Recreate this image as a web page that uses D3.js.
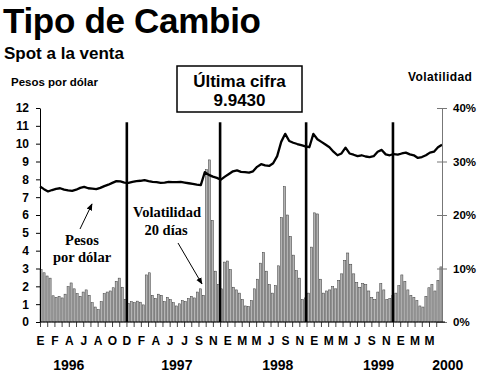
<!DOCTYPE html>
<html>
<head>
<meta charset="utf-8">
<script src="https://cdn.jsdelivr.net/npm/d3@7"></script>
<style>
  body { margin: 0; background: #fff; }
  svg { display: block; font-family: "Liberation Sans", Arial, sans-serif; }
</style>
</head>
<body>
<div id="chart"></div>
<script>
// pesos per dollar, roughly every two weeks, Jan 1996 -> Jan 2000
const pesos = [
  7.60, 7.45, 7.32, 7.40, 7.47, 7.50, 7.42, 7.38, 7.35, 7.42,
  7.52, 7.58, 7.50, 7.48, 7.45, 7.52, 7.62, 7.70, 7.80, 7.90,
  7.88, 7.82, 7.80, 7.86, 7.90, 7.92, 7.96, 7.90, 7.86, 7.84,
  7.80, 7.82, 7.86, 7.84, 7.84, 7.86, 7.82, 7.78, 7.74, 7.70,
  7.68, 8.40, 8.25, 8.15, 8.08, 7.98, 8.15, 8.30, 8.45, 8.50,
  8.42, 8.40, 8.38, 8.45, 8.70, 8.85, 8.78, 8.75, 8.90, 9.30,
  10.10, 10.55, 10.15, 10.05, 9.98, 9.92, 9.85, 9.80, 10.55, 10.25,
  10.10, 9.95, 9.80, 9.55, 9.35, 9.45, 9.78, 9.45, 9.38, 9.30,
  9.35, 9.28, 9.25, 9.30, 9.55, 9.65, 9.40, 9.35, 9.42, 9.38,
  9.45, 9.50, 9.40, 9.35, 9.20, 9.25, 9.35, 9.50, 9.55, 9.80,
  9.943
];

// 20-day volatility (%)
const volatility = [
  9.8, 9.2, 8.6, 8.2, 4.9, 4.6, 4.8, 4.5, 5.2, 6.6,
  7.3, 6.2, 5.3, 4.8, 5.6, 6.0, 5.0, 3.6, 2.8, 2.3,
  3.8, 5.3, 5.6, 5.8, 6.4, 7.6, 8.2, 6.5, 4.2, 3.5,
  3.8, 3.6, 3.9, 3.7, 3.2, 8.8, 9.2, 5.0, 4.4, 5.2,
  5.0, 3.8, 4.6, 4.2, 3.6, 3.0, 3.4, 4.0, 3.8, 4.4,
  4.8, 4.5, 5.6, 6.2, 5.0, 28.5, 30.3, 19.0, 9.5, 7.0,
  6.2, 11.2, 11.4, 9.8, 6.5, 6.0, 5.4, 4.2, 3.0, 2.9,
  4.0, 6.2, 8.0, 11.0, 13.0, 9.5, 7.0, 5.4, 6.8, 10.5,
  19.5, 25.3, 20.0, 16.0, 12.5, 9.6, 8.2, 4.2, 4.5, 5.4,
  14.0, 20.4, 20.2, 8.0, 5.4, 5.8, 6.0, 6.6, 6.2, 7.8,
  9.0, 11.5, 12.9, 10.8, 9.0, 7.4, 6.5, 7.2, 7.0, 5.8,
  4.6, 4.2, 5.6, 7.2, 6.0, 4.2, 4.4, 5.0, 5.4, 6.8,
  8.8, 7.6, 6.0, 5.0, 4.6, 4.0, 3.0, 2.8, 4.8, 6.4,
  7.0, 5.8, 7.8, 10.3
];

const monthLabels = ["E","F","A","J","A","O","D","F","A","J","J","S","N","E",
                     "M","M","J","S","N","E","M","M","J","S","N","E","M","M"];
const yearLabels = ["1996", "1997", "1998", "1999", "2000"];
const yearAt = [2.0, 9.5, 16.5, 23.5, 28.3];      // in month-label steps
const eventAt = [21.6, 44.8, 66.2, 87.8];         // in peso-series steps
const pesoTicks = d3.range(0, 13);
const volTicks = [0, 10, 20, 30, 40];

const W = 480, H = 378;
const plotL = 40, plotR = 442, plotT = 108, plotB = 322;

const svg = d3.select("#chart").append("svg")
    .attr("width", W)
    .attr("height", H);

const yL = d3.scaleLinear().domain([0, 12]).range([plotB, plotT]);
const yR = d3.scaleLinear().domain([0, 40]).range([plotB, plotT]);
const xLine = d3.scaleLinear().domain([0, pesos.length - 1]).range([plotL, plotR]);
const xBar = d3.scaleBand().domain(d3.range(volatility.length)).range([plotL, plotR]).paddingInner(0.3);
const xMonth = d3.scaleLinear().domain([0, monthLabels.length - 1]).range([plotL, 429]);

// volatility bars
svg.append("g")
  .selectAll("rect")
  .data(volatility)
  .join("rect")
    .attr("x", (d, i) => xBar(i))
    .attr("y", d => yR(d))
    .attr("width", xBar.bandwidth())
    .attr("height", d => plotB - yR(d))
    .attr("fill", "#b4b4b4")
    .attr("stroke", "#3a3a3a")
    .attr("stroke-width", 0.5);

// event markers
svg.append("g")
  .selectAll("line")
  .data(eventAt)
  .join("line")
    .attr("x1", d => xLine(d)).attr("x2", d => xLine(d))
    .attr("y1", yL(11.2)).attr("y2", plotB)
    .attr("stroke", "#000")
    .attr("stroke-width", 2.6);

// pesos per dollar line
svg.append("path")
  .datum(pesos)
  .attr("fill", "none")
  .attr("stroke", "#000")
  .attr("stroke-width", 2.3)
  .attr("stroke-linejoin", "round")
  .attr("d", d3.line().x((d, i) => xLine(i)).y(d => yL(d)));

// left axis
const axL = svg.append("g")
    .attr("transform", `translate(${plotL},0)`)
    .call(d3.axisLeft(yL).tickValues(pesoTicks).tickSize(4).tickSizeOuter(0).tickPadding(7));
axL.selectAll("text").attr("font-size", 12).attr("font-weight", "bold").attr("fill", "#000");
axL.select(".domain").attr("stroke", "#000");

// right axis
const axR = svg.append("g")
    .attr("transform", `translate(${plotR},0)`)
    .call(d3.axisRight(yR).tickValues(volTicks).tickFormat(d => d + "%").tickSize(5).tickSizeOuter(0).tickPadding(6));
axR.selectAll(".tick line").attr("x1", -5).attr("stroke", "#777");
axR.select(".domain").attr("stroke", "#777");
axR.selectAll("text").attr("font-size", 11.5).attr("font-weight", "bold").attr("fill", "#000");

// bottom axis with month initials
const axB = svg.append("g")
    .attr("transform", `translate(0,${plotB})`)
    .call(d3.axisBottom(xMonth)
      .tickValues(d3.range(0, monthLabels.length - 0.5 + 0.01, 0.5))
      .tickFormat(d => Number.isInteger(d) ? monthLabels[d] : "")
      .tickSize(5).tickSizeOuter(0).tickPadding(9));
axB.select(".domain").remove();
axB.selectAll(".tick line").attr("stroke", "#444");
axB.selectAll("text").attr("font-size", 12).attr("font-weight", "bold").attr("fill", "#000");
svg.append("line")
    .attr("x1", plotL).attr("x2", plotR + 3)
    .attr("y1", plotB).attr("y2", plotB)
    .attr("stroke", "#000");

// years
svg.append("g")
  .selectAll("text")
  .data(yearLabels)
  .join("text")
    .attr("x", (d, i) => xMonth(yearAt[i]))
    .attr("y", 370)
    .attr("text-anchor", "middle")
    .attr("font-size", 14)
    .attr("font-weight", "bold")
    .text(d => d);

// titles
svg.append("text").attr("x", 3).attr("y", 33)
    .attr("font-size", 35).attr("font-weight", "bold").attr("letter-spacing", -0.3)
    .text("Tipo de Cambio");
svg.append("text").attr("x", 4).attr("y", 59)
    .attr("font-size", 17).attr("font-weight", "bold")
    .text("Spot a la venta");
svg.append("text").attr("x", 11).attr("y", 86)
    .attr("font-size", 11.5).attr("font-weight", "bold")
    .text("Pesos por dólar");
svg.append("text").attr("x", 408).attr("y", 81)
    .attr("font-size", 12).attr("font-weight", "bold").attr("letter-spacing", 0.4)
    .text("Volatilidad");

// last value box
svg.append("rect")
    .attr("x", 177).attr("y", 66).attr("width", 125).attr("height", 46)
    .attr("fill", "#fff").attr("stroke", "#000").attr("stroke-width", 1.5);
svg.append("text").attr("x", 239.5).attr("y", 87).attr("text-anchor", "middle")
    .attr("font-size", 17).attr("font-weight", "bold").text("Última cifra");
svg.append("text").attr("x", 239.5).attr("y", 106).attr("text-anchor", "middle")
    .attr("font-size", 17).attr("font-weight", "bold").text(pesos[pesos.length - 1].toFixed(4));

// annotations
svg.append("defs").append("marker")
    .attr("id", "arrow")
    .attr("viewBox", "0 0 10 10")
    .attr("refX", 9).attr("refY", 5)
    .attr("markerWidth", 7).attr("markerHeight", 7)
    .attr("orient", "auto")
  .append("path")
    .attr("d", "M0,1 L10,5 L0,9 Z")
    .attr("fill", "#000");

const serif = '"Liberation Serif", "Times New Roman", serif';
const note = svg.append("g").attr("font-family", serif).attr("font-size", 14.5)
    .attr("font-weight", "bold").attr("text-anchor", "middle");
note.append("text").attr("x", 82).attr("y", 245).text("Pesos");
note.append("text").attr("x", 82).attr("y", 262).text("por dólar");
note.append("text").attr("x", 167).attr("y", 217).text("Volatilidad");
note.append("text").attr("x", 166).attr("y", 235).text("20 días");

svg.append("line").attr("x1", 80).attr("y1", 229).attr("x2", 92).attr("y2", 204)
    .attr("stroke", "#000").attr("stroke-width", 1).attr("marker-end", "url(#arrow)");
svg.append("line").attr("x1", 178).attr("y1", 243).attr("x2", 202).attr("y2", 284)
    .attr("stroke", "#000").attr("stroke-width", 1).attr("marker-end", "url(#arrow)");
</script>
</body>
</html>
